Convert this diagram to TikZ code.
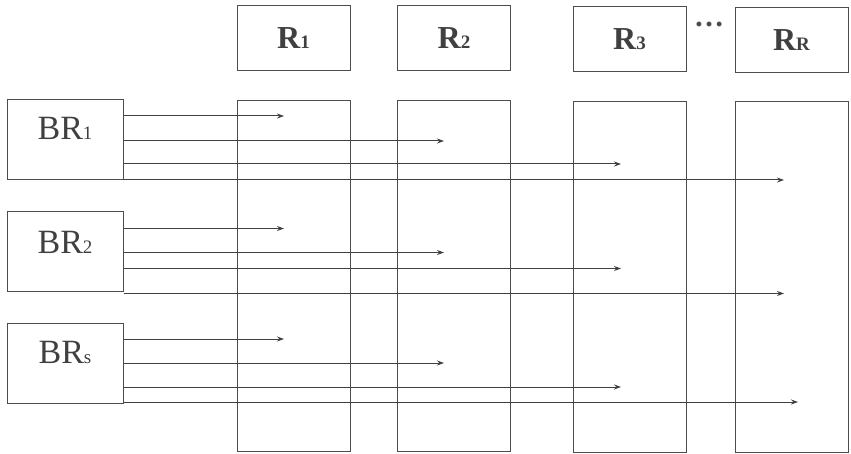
\documentclass[tikz,border=0pt]{standalone}
\usepackage{fontspec}
\setmainfont{Liberation Serif}
\usetikzlibrary{arrows.meta,positioning}

\newcommand{\smallidx}[1]{{\fontsize{19}{19}\selectfont #1}}

\tikzset{
	box/.style={draw=black!70, line width=1pt, minimum width=113pt, inner sep=0pt},
	headbox/.style={box, minimum height=65pt, font=\fontsize{32}{32}\selectfont\bfseries, text=black!75},
	colbox/.style={box, minimum height=350pt},
	brbox/.style={draw=black!70, line width=1pt, minimum width=116pt, minimum height=80pt, inner sep=0pt},
	brtext/.style={font=\fontsize{34}{34}\selectfont, text=black!75, inner sep=0pt},
	arr/.style={draw=black!75, line width=1pt, -{Stealth[length=7pt,width=5pt]}}
}

\begin{document}
\begin{tikzpicture}[x=1pt,y=-1pt]
				\useasboundingbox (0,0) rectangle (851,454);
				% receivers
				\node[headbox] (R1) at (293.5,38.5) {R\smallidx{1}};
				\node[headbox] (R2) at (454,38.5) {R\smallidx{2}};
				\node[headbox] (R3) at (629.5,39) {R\smallidx{3}};
				\node[headbox] (RR) at (791.5,40) {R\smallidx{R}};
				\node[font=\fontsize{30}{30}\selectfont\bfseries, text=black!70, inner sep=0pt,
					text height=4pt, text depth=0pt, anchor=base] (dots) at (709,27) {…};
				\node[colbox] (col1) at (293.5,276) {};
				\node[colbox] (col2) at (454,276) {};
				\node[colbox] (col3) at (629.5,277) {};
				\node[colbox] (col4) at (791.5,277) {};
				% base stations
				\node[brbox] (BR1) at (65,139.5) {};
				\node[brbox] (BR2) at (65,252) {};
				\node[brbox] (BRs) at (65,363.5) {};
				\node[brtext] (t1) at ([yshift=-29pt]BR1.north) {BR\smallidx{1}};
				\node[brtext] (t2) at ([yshift=-31pt]BR2.north) {BR\smallidx{2}};
				\node[brtext] (ts) at ([yshift=-29pt]BRs.north) {BR\smallidx{s}};
				% arrow ends
				\coordinate (e1) at (284,0);
				\coordinate (e2) at (444,0);
				\coordinate (e3) at (621,0);
				\coordinate (e4) at (784,0);
				\coordinate (e5) at (798,0);
				% links
				\foreach \b/\ya/\yb/\yc/\yd/\last in {BR1/17/42/65/81/e4, BR2/17/41/57/82/e4, BRs/16/40/64/79/e5}{
					\coordinate (a1) at ([yshift=-\ya pt]\b.north east);
					\coordinate (a2) at ([yshift=-\yb pt]\b.north east);
					\coordinate (a3) at ([yshift=-\yc pt]\b.north east);
					\coordinate (a4) at ([yshift=-\yd pt]\b.north east);
					\draw[arr] (a1) -- (a1 -| e1);
					\draw[arr] (a2) -- (a2 -| e2);
					\draw[arr] (a3) -- (a3 -| e3);
					\draw[arr] (a4) -- (a4 -| \last);
				}
			\end{tikzpicture}
\end{document}
